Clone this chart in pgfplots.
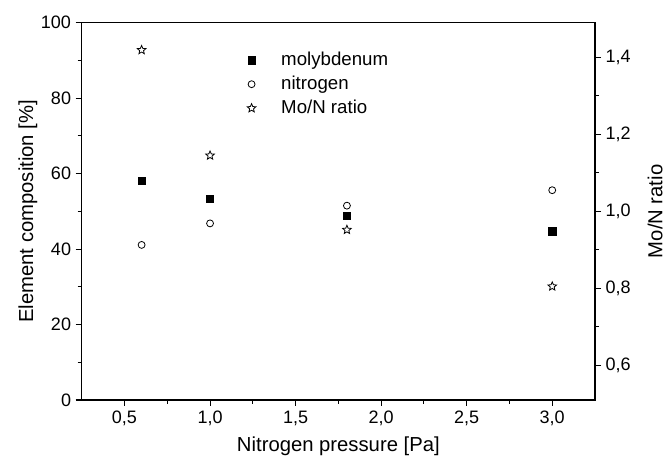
\documentclass[border=0pt]{standalone}
\usepackage{pgfplots}
\pgfplotsset{compat=1.18}
\usepackage{fontspec}
\setmainfont{Liberation Sans}

% open five-pointed star
\pgfdeclareplotmark{ostar}{%
  \pgfpathmoveto{\pgfpointpolar{90}{\pgfplotmarksize}}%
  \pgfpathlineto{\pgfpointpolar{126}{0.45\pgfplotmarksize}}%
  \pgfpathlineto{\pgfpointpolar{162}{\pgfplotmarksize}}%
  \pgfpathlineto{\pgfpointpolar{198}{0.45\pgfplotmarksize}}%
  \pgfpathlineto{\pgfpointpolar{234}{\pgfplotmarksize}}%
  \pgfpathlineto{\pgfpointpolar{270}{0.45\pgfplotmarksize}}%
  \pgfpathlineto{\pgfpointpolar{306}{\pgfplotmarksize}}%
  \pgfpathlineto{\pgfpointpolar{342}{0.45\pgfplotmarksize}}%
  \pgfpathlineto{\pgfpointpolar{18}{\pgfplotmarksize}}%
  \pgfpathlineto{\pgfpointpolar{54}{0.45\pgfplotmarksize}}%
  \pgfpathclose\pgfusepathqstroke}

\pgfplotsset{
  common/.style={width=385pt, height=283pt, scale only axis,
    xmin=0.25, xmax=3.25, tick align=outside,
    major tick length=4.5pt, minor tick length=3pt,
    every tick/.style={black, line width=0.8pt},
    axis line style={line width=1pt},
    /pgf/number format/assume math mode=true,
    tick label style={font=\fontsize{13.5}{16}\selectfont},
    label style={font=\fontsize{15.2}{18}\selectfont}},
  comma/.style={/pgf/number format/.cd, use comma, fixed, fixed zerofill, precision=1},
}

\begin{document}
\begin{tikzpicture}
\begin{axis}[common, name=main,
  ymin=0, ymax=100, ytick={0,20,...,100}, minor y tick num=1,
  xtick={0.5,1,1.5,2,2.5,3}, minor x tick num=1,
  xticklabel style={comma},
  xtick pos=bottom, ytick pos=left,
  xlabel={Nitrogen pressure [Pa]}, ylabel={Element composition [\%]},
  xlabel style={at={(axis description cs:0.5,-0.124)}, anchor=center},
  ylabel style={at={(axis description cs:-0.105,0.5)}, anchor=center},
  legend style={draw=none, fill=none, inner sep=0pt, at={(0.322,0.926)}, anchor=north west,
    font=\fontsize{14}{17}\selectfont, row sep=4pt,
    nodes={inner sep=0pt, text height=11pt, text depth=3pt},
    /tikz/every odd column/.append style={column sep=19pt}},
  legend cell align=left]
\addplot[only marks, mark=square*, mark size=2.7pt, black] coordinates {
  (0.6,58.1) (1.0,53.4) (1.8,48.8) (3.0,44.7)};
\addplot[only marks, mark=o, mark size=2.6pt, black, line width=0.6pt] coordinates {
  (0.6,41.1) (1.0,46.8) (1.8,51.5) (3.0,55.6)};
\addlegendimage{only marks, mark=ostar, mark size=3.4pt, black, line width=0.6pt}
\legend{molybdenum, nitrogen, Mo/N ratio}
\end{axis}
\begin{axis}[common,
  axis y line*=right, axis x line=none,
  ymin=0.51, ymax=1.49, ytick={0.6,0.8,1.0,1.2,1.4}, minor y tick num=1,
  yticklabel style={comma},
  ylabel={Mo/N ratio},
  ylabel style={at={(axis description cs:1.117,0.5)}, anchor=center}]
\addplot[only marks, mark=ostar, mark size=3.4pt, black, line width=0.6pt] coordinates {
  (0.6,1.419) (1.0,1.145) (1.8,0.952) (3.0,0.805)};
\end{axis}
\pgfresetboundingbox
\path ([xshift=-61.3pt,yshift=-43.5pt]main.south west) rectangle ([xshift=53.25pt,yshift=17pt]main.north east);
\end{tikzpicture}
\end{document}
